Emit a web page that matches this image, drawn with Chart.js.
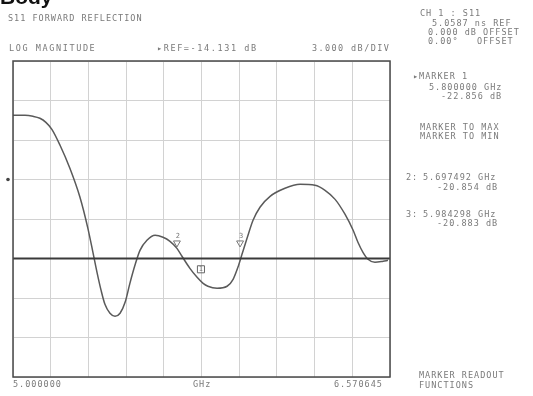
<!DOCTYPE html>
<html>
<head>
<meta charset="utf-8">
<script src="https://cdn.jsdelivr.net/npm/chart.js@4"></script>
<style>
  html,body{margin:0;padding:0;background:#fff;}
  #wrap{position:relative;width:533px;height:396px;overflow:hidden;background:#fff;}
  canvas{position:absolute;left:0;top:0;}
  .t{position:absolute;font-family:"DejaVu Sans Mono",monospace;font-size:8.5px;color:#7a7a7a;white-space:pre;letter-spacing:1px;line-height:10px;}
  .big{position:absolute;font-family:"Liberation Sans",Arial,sans-serif;font-weight:bold;font-size:21px;color:#111;left:0;top:-14px;line-height:22px;}
</style>
</head>
<body>
<div id="wrap">
  <canvas id="c" width="533" height="396"></canvas>
  <div class="big">Body</div>
  <div class="t" style="left:8px;top:13px;">S11 FORWARD REFLECTION</div>
  <div class="t" style="left:9px;top:43px;letter-spacing:1.6px;">LOG MAGNITUDE</div>
  <div class="t" style="left:157px;top:43px;letter-spacing:1.6px;">&#9656;REF=-14.131 dB</div>
  <div class="t" style="left:312px;top:43px;letter-spacing:1.4px;">3.000 dB/DIV</div>

  <div class="t" style="left:420px;top:8px;">CH 1 : S11</div>
  <div class="t" style="left:432px;top:18px;">5.0587 ns REF</div>
  <div class="t" style="left:428px;top:27px;">0.000 dB OFFSET</div>
  <div class="t" style="left:428px;top:36px;">0.00&#176;   OFFSET</div>

  <div class="t" style="left:413px;top:71px;">&#9656;MARKER 1</div>
  <div class="t" style="left:429px;top:82px;">5.800000 GHz</div>
  <div class="t" style="left:441px;top:91px;">-22.856 dB</div>

  <div class="t" style="left:420px;top:122px;">MARKER TO MAX</div>
  <div class="t" style="left:420px;top:131px;">MARKER TO MIN</div>

  <div class="t" style="left:406px;top:172px;">2:</div>
  <div class="t" style="left:423px;top:172px;">5.697492 GHz</div>
  <div class="t" style="left:437px;top:182px;">-20.854 dB</div>

  <div class="t" style="left:406px;top:209px;">3:</div>
  <div class="t" style="left:423px;top:209px;">5.984298 GHz</div>
  <div class="t" style="left:437px;top:218px;">-20.883 dB</div>

  <div class="t" style="left:419px;top:370px;">MARKER READOUT</div>
  <div class="t" style="left:419px;top:380px;">FUNCTIONS</div>

  <div class="t" style="left:13px;top:379px;">5.000000</div>
  <div class="t" style="left:193px;top:379px;">GHz</div>
  <div class="t" style="left:334px;top:379px;">6.570645</div>
</div>
<script>
// ---- data ----
const START_GHZ = 5.000000;
const STOP_GHZ = 6.570645;
const REF_DB = -14.131;
const DB_PER_DIV = 3.0;
const X_DIVS = 10;
const DIVS_ABOVE_REF = 5;
const DIVS_BELOW_REF = 3;

const freqGHz = [5.000,5.050,5.083,5.112,5.137,5.162,5.196,5.237,5.279,5.312,5.333,5.350,5.367,5.383,5.404,5.425,5.446,5.467,5.487,5.508,5.529,5.558,5.592,5.625,5.654,5.683,5.704,5.737,5.767,5.792,5.812,5.850,5.892,5.917,5.937,5.954,5.975,6.000,6.029,6.071,6.133,6.196,6.258,6.300,6.342,6.383,6.417,6.437,6.458,6.479,6.508,6.542,6.562];
const s11dB = [-3.26,-3.26,-3.33,-3.48,-3.79,-4.32,-5.53,-7.28,-9.48,-11.84,-13.66,-15.18,-16.55,-17.61,-18.29,-18.52,-18.29,-17.46,-16.02,-14.65,-13.51,-12.75,-12.37,-12.52,-12.83,-13.36,-13.96,-14.88,-15.56,-16.02,-16.24,-16.39,-16.24,-15.71,-14.80,-13.81,-12.60,-11.23,-10.24,-9.41,-8.80,-8.50,-8.57,-8.95,-9.64,-10.77,-11.99,-12.90,-13.66,-14.19,-14.42,-14.34,-14.27];

const triMarkerFreq = [5.683, 5.946];
const triMarkerDB = [-12.95, -12.95];
const boxMarkerFreq = [5.783];
const boxMarkerDB = [-14.95];

const Y_MIN = REF_DB - DIVS_BELOW_REF * DB_PER_DIV;
const Y_MAX = REF_DB + DIVS_ABOVE_REF * DB_PER_DIV;

const toPts = (xs, ys) => xs.map((x, i) => ({x: x, y: ys[i]}));

const framePlugin = {
  id: 'frame',
  afterDatasetsDraw(chart) {
    const {ctx, chartArea: a, scales} = chart;
    ctx.save();
    const yr = scales.y.getPixelForValue(REF_DB);
    ctx.strokeStyle = '#3a3a3a';
    ctx.lineWidth = 2;
    ctx.beginPath(); ctx.moveTo(a.left, yr); ctx.lineTo(a.right, yr); ctx.stroke();
    ctx.strokeStyle = '#4a4a4a';
    ctx.lineWidth = 1.5;
    ctx.strokeRect(a.left, a.top, a.right - a.left, a.bottom - a.top);
    const yd = scales.y.getPixelForValue(REF_DB + 2 * DB_PER_DIV);
    ctx.fillStyle = '#444';
    ctx.beginPath(); ctx.arc(a.left - 5, yd, 1.8, 0, Math.PI * 2); ctx.fill();
    ctx.fillStyle = '#777';
    ctx.font = '7px "DejaVu Sans Mono"';
    ctx.textAlign = 'center';
    ctx.fillText('2', scales.x.getPixelForValue(triMarkerFreq[0]) + 1, scales.y.getPixelForValue(triMarkerDB[0]) - 5);
    ctx.fillText('3', scales.x.getPixelForValue(triMarkerFreq[1]) + 1, scales.y.getPixelForValue(triMarkerDB[1]) - 5);
    ctx.fillText('1', scales.x.getPixelForValue(boxMarkerFreq[0]), scales.y.getPixelForValue(boxMarkerDB[0]) + 2);
    ctx.restore();
  }
};

new Chart(document.getElementById('c'), {
  type: 'line',
  data: {
    datasets: [
      {
        data: toPts(freqGHz, s11dB),
        borderColor: '#5a5a5a',
        borderWidth: 1.5,
        pointRadius: 0,
        cubicInterpolationMode: 'monotone',
        fill: false
      },
      {
        data: toPts(triMarkerFreq, triMarkerDB),
        showLine: false,
        pointStyle: 'triangle',
        rotation: 180,
        pointRadius: 4,
        borderColor: '#777',
        borderWidth: 1,
        backgroundColor: 'rgba(0,0,0,0)'
      },
      {
        data: toPts(boxMarkerFreq, boxMarkerDB),
        showLine: false,
        pointStyle: 'rect',
        pointRadius: 5,
        borderColor: '#666',
        borderWidth: 1,
        backgroundColor: 'rgba(0,0,0,0)'
      }
    ]
  },
  options: {
    responsive: false,
    animation: false,
    devicePixelRatio: 1,
    layout: {padding: {left: 13, top: 61, right: 143, bottom: 19}},
    plugins: {legend: {display: false}, tooltip: {enabled: false}},
    scales: {
      x: {
        type: 'linear',
        min: START_GHZ, max: STOP_GHZ,
        afterBuildTicks: (s) => {
          const t = [];
          for (let i = 0; i <= X_DIVS; i++) t.push({value: START_GHZ + i * (STOP_GHZ - START_GHZ) / X_DIVS});
          s.ticks = t;
        },
        ticks: {display: false},
        grid: {color: '#d2d2d2', lineWidth: 1, drawTicks: false},
        border: {display: false}
      },
      y: {
        type: 'linear',
        min: Y_MIN, max: Y_MAX,
        afterBuildTicks: (s) => {
          const t = [];
          for (let i = 0; i <= DIVS_ABOVE_REF + DIVS_BELOW_REF; i++) t.push({value: Y_MIN + i * DB_PER_DIV});
          s.ticks = t;
        },
        ticks: {display: false},
        grid: {color: '#d2d2d2', lineWidth: 1, drawTicks: false},
        border: {display: false}
      }
    }
  },
  plugins: [framePlugin]
});
</script>
</body>
</html>
